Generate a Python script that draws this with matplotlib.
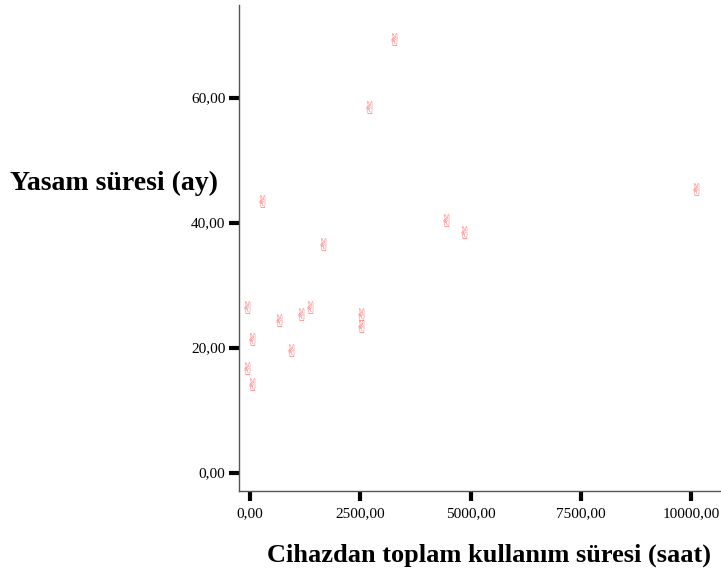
import matplotlib
matplotlib.use("Agg")
import matplotlib.pyplot as plt
from matplotlib.ticker import FixedLocator

# Data
usage_hours = [3271, 2705, 287, 4459, 4851, 1670, -52, 673, 1164, 1368,
               2516, 2516, 61, 945, -52, 61, 10126]
survival_months = [69.1, 58.1, 43.2, 40.1, 38.1, 36.2, 26.1, 24.1, 25.1, 26.1,
                   25.1, 23.1, 21.0, 19.3, 16.4, 13.9, 45.1]
x_ticks = [0, 2500, 5000, 7500, 10000]
x_tick_labels = ["0,00", "2500,00", "5000,00", "7500,00", "10000,00"]
y_ticks = [0, 20, 40, 60]
y_tick_labels = ["0,00", "20,00", "40,00", "60,00"]

W, H = 721, 579
fig = plt.figure(figsize=(W / 100, H / 100), dpi=100)
ax = fig.add_axes([239.3 / W, (H - 491) / H, 1 - 239.3 / W, (491 - 5) / H])

ax.set_xlim(-243, 10678)
ax.set_ylim(-2.93, 74.8)

for xv, yv in zip(usage_hours, survival_months):
    ax.text(xv, yv, "\u270C", family=["DejaVu Sans"], fontsize=12,
            color="#ff5f5f", alpha=0.85, ha="center", va="center")

for s in ("top", "right"):
    ax.spines[s].set_visible(False)
for s in ("left", "bottom"):
    ax.spines[s].set_color("#555555")
    ax.spines[s].set_linewidth(1.0)

ax.xaxis.set_major_locator(FixedLocator(x_ticks))
ax.set_xticklabels(x_tick_labels)
ax.yaxis.set_major_locator(FixedLocator(y_ticks))
ax.set_yticklabels(y_tick_labels)
ax.tick_params(axis="both", direction="out", length=7, width=3, color="black",
               labelsize=11)
ax.tick_params(axis="y", pad=3)
ax.tick_params(axis="x", pad=5)
for lab in ax.get_xticklabels() + ax.get_yticklabels():
    lab.set_family("Liberation Serif")

fig.text(10 / W, 1 - 183 / H, "Yasam süresi (ay)", family="Liberation Serif",
         fontweight="bold", fontsize=20, ha="left", va="center")
fig.text(489 / W, 1 - 555 / H, "Cihazdan toplam kullanım süresi (saat)",
         family="Liberation Serif", fontweight="bold", fontsize=19,
         ha="center", va="center")

fig.savefig("out.png", dpi=100)
